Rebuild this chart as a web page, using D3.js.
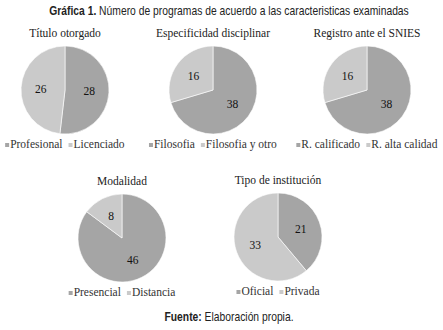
<!DOCTYPE html>
<html>
<head>
<meta charset="utf-8">
<script src="https://cdn.jsdelivr.net/npm/d3@7"></script>
<style>
  body { margin: 0; background: #fff; }
  svg { display: block; }
</style>
</head>
<body>
<div id="chart"></div>
<script>
// data
var titles = ["Título otorgado", "Especificidad disciplinar", "Registro ante el SNIES", "Modalidad", "Tipo de institución"];
var categories = [
  ["Profesional", "Licenciado"],
  ["Filosofia", "Filosofia y otro"],
  ["R. calificado", "R. alta calidad"],
  ["Presencial", "Distancia"],
  ["Oficial", "Privada"]
];
var values = [[28, 26], [38, 16], [38, 16], [46, 8], [21, 33]];

var width = 443, height = 330;
var colors = ["#a5a5a5", "#cacaca"];
var serif = "'Liberation Serif', 'Times New Roman', serif";
var sans = "'Liberation Sans', Arial, sans-serif";

// pie centres, radius
var centers = [[65, 90], [213, 90], [367, 90], [122, 238], [278, 237]];
var r = 44;

var svg = d3.select("#chart")
  .append("svg")
    .attr("width", width)
    .attr("height", height);

// header (condensed look: squeeze horizontally)
var head = svg.append("text")
  .attr("transform", "translate(" + 229 + ",15) scale(0.86,1)")
  .attr("text-anchor", "middle")
  .style("font-family", sans)
  .style("font-size", "12px")
  .style("fill", "#222");
head.append("tspan").style("font-weight", "bold").text("Gráfica 1.");
head.append("tspan").text(" Número de programas de acuerdo a las caracteristicas examinadas");

var pie = d3.pie().sort(null).value(d => d);
var arc = d3.arc().innerRadius(0).outerRadius(r);
var labelArc = d3.arc().innerRadius(r * 0.55).outerRadius(r * 0.55);

values.forEach(function(vals, i) {
  var cx = centers[i][0], cy = centers[i][1];
  var g = svg.append("g").attr("transform", "translate(" + cx + "," + cy + ")");

  // title
  svg.append("text")
    .attr("x", cx)
    .attr("y", cy - r - 9)
    .attr("text-anchor", "middle")
    .style("font-family", serif)
    .style("font-size", "11.5px")
    .style("fill", "#222")
    .text(titles[i]);

  var arcs = pie(vals);
  g.selectAll("path")
    .data(arcs)
    .join("path")
      .attr("d", arc)
      .attr("fill", (d, j) => colors[j])
      .attr("stroke", "#fff")
      .attr("stroke-width", 0.6);

  g.selectAll("text.lbl")
    .data(arcs)
    .join("text")
      .attr("class", "lbl")
      .attr("transform", d => "translate(" + labelArc.centroid(d) + ")")
      .attr("text-anchor", "middle")
      .attr("dy", "0.35em")
      .style("font-family", serif)
      .style("font-size", "11.5px")
      .style("fill", "#111")
      .text(d => d.data);

  // legend
  var leg = svg.append("g").attr("transform", "translate(0," + (cy + r + 14) + ")");
  var items = leg.selectAll("g")
    .data(categories[i])
    .join("g");
  items.append("rect")
    .attr("y", -5)
    .attr("width", 4)
    .attr("height", 4)
    .attr("fill", (d, j) => colors[j]);
  items.append("text")
    .attr("x", 5)
    .style("font-family", serif)
    .style("font-size", "11.5px")
    .style("fill", "#333")
    .text(d => d);

  // lay the items out side by side, centred under the pie
  var x = 0, ws = [];
  items.each(function() { ws.push(this.getBBox().width); });
  var total = d3.sum(ws) + 6 * (ws.length - 1);
  x = cx - total / 2;
  items.attr("transform", function(d, j) {
    var t = "translate(" + x + ",0)";
    x += ws[j] + 6;
    return t;
  });
});

// footer
var foot = svg.append("text")
  .attr("transform", "translate(229,321) scale(0.86,1)")
  .attr("text-anchor", "middle")
  .style("font-family", sans)
  .style("font-size", "12px")
  .style("fill", "#222");
foot.append("tspan").style("font-weight", "bold").text("Fuente:");
foot.append("tspan").text(" Elaboración propia.");
</script>
</body>
</html>
